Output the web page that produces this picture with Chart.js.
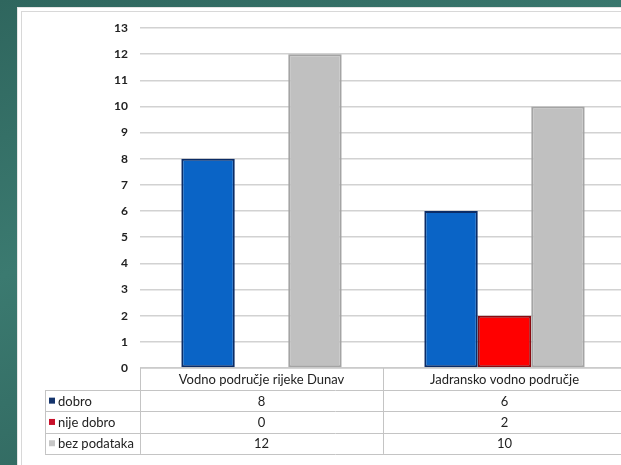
<!DOCTYPE html>
<html>
<head>
<meta charset="utf-8">
<script src="https://cdn.jsdelivr.net/npm/chart.js@4/dist/chart.umd.min.js"></script>
<style>
  html, body { margin: 0; padding: 0; overflow: hidden; }
  body {
    width: 621px; height: 465px; position: relative;
    background: linear-gradient(160deg, #2f665e 0%, #3b7a70 40%, #2b5d56 100%);
  }
  #panel {
    position: absolute; left: 17px; top: 7px; width: 620px; height: 470px;
    background: #fff; border: 1px solid #e4e4e4;
    box-shadow: inset 3px 3px 0 #fff, inset 4px 4px 0 #d8d8d8;
  }
  #wrap { position: absolute; left: 0; top: 0; width: 632px; height: 465px; }
</style>
</head>
<body>
<div id="panel"></div>
<div id="wrap"><canvas id="chart" width="632" height="465"></canvas></div>
<script>
var categories = ['Vodno područje rijeke Dunav', 'Jadransko vodno područje'];
var seriesNames = ['dobro', 'nije dobro', 'bez podataka'];
var dobro = [8, 6];
var nijeDobro = [0, 2];
var bezPodataka = [12, 10];
var yTicks = [0, 1, 2, 3, 4, 5, 6, 7, 8, 9, 10, 11, 12, 13];

var fillColors = ['#0a64c6', '#ff0000', '#c0c0c0'];
var edgeColors = ['#0b2c66', '#8a0a10', '#a4a4a4'];
var markColors = ['#15346c', '#c8102a', '#c6c6c6'];
var fontFamily = 'Lato, "Open Sans", sans-serif';

// data table drawn under the plot, one row per series
var dataTable = {
    id: 'dataTable',
    afterDraw: function (chart) {
        var ctx = chart.ctx;
        var x = chart.scales.x;
        var area = chart.chartArea;
        var rows = [dobro, nijeDobro, bezPodataka];
        var top = area.bottom;
        var headH = 22, rowH = 21.3;
        var labelLeft = 45;
        var step = x.getPixelForValue(1) - x.getPixelForValue(0);
        var bottom = top + headH + rowH * rows.length;

        ctx.save();
        ctx.strokeStyle = '#c4c4c4';
        ctx.lineWidth = 1;
        ctx.beginPath();
        ctx.moveTo(area.left, top); ctx.lineTo(area.right, top);
        for (var r = 0; r <= rows.length; r++) {
            var yy = Math.round(top + headH + rowH * r) + 0.5;
            ctx.moveTo(labelLeft, yy); ctx.lineTo(area.right, yy);
        }
        ctx.moveTo(labelLeft + 0.5, top + headH); ctx.lineTo(labelLeft + 0.5, bottom);
        ctx.moveTo(area.left + 0.5, top); ctx.lineTo(area.left + 0.5, bottom);
        for (var c = 0; c < categories.length; c++) {
            var edge = Math.round(x.getPixelForValue(c) + step / 2) + 0.5;
            ctx.moveTo(edge, top); ctx.lineTo(edge, bottom);
        }
        ctx.stroke();

        ctx.fillStyle = '#222';
        ctx.font = '13px ' + fontFamily;
        ctx.textAlign = 'center';
        ctx.textBaseline = 'middle';
        categories.forEach(function (name, i) {
            ctx.fillText(name, x.getPixelForValue(i), top + headH / 2 + 1);
        });
        rows.forEach(function (vals, r) {
            var cy = top + headH + rowH * r + rowH / 2 + 1;
            vals.forEach(function (v, i) {
                ctx.fillStyle = '#222';
                ctx.textAlign = 'center';
                ctx.fillText(String(v), x.getPixelForValue(i), cy);
            });
            ctx.fillStyle = markColors[r];
            ctx.fillRect(labelLeft + 4, cy - 4, 6, 6);
            ctx.fillStyle = '#222';
            ctx.textAlign = 'left';
            ctx.fillText(seriesNames[r], labelLeft + 13, cy);
        });
        ctx.restore();
    }
};

var ctx = document.getElementById('chart').getContext('2d');
var chart = new Chart(ctx, {
    type: 'bar',
    data: {
        labels: categories,
        datasets: [
            { label: seriesNames[0], data: dobro },
            { label: seriesNames[1], data: nijeDobro },
            { label: seriesNames[2], data: bezPodataka }
        ].map(function (ds, i) {
            ds.backgroundColor = fillColors[i];
            ds.borderColor = edgeColors[i];
            ds.borderWidth = 2;
            ds.borderSkipped = false;
            ds.barPercentage = 1;
            ds.categoryPercentage = 0.66;
            return ds;
        })
    },
    options: {
        responsive: false,
        animation: false,
        layout: { padding: { top: 28, bottom: 97, right: 6, left: 0 } },
        plugins: { legend: { display: false }, tooltip: { enabled: false } },
        scales: {
            x: { display: false },
            y: {
                min: 0,
                max: 13,
                afterFit: function (scale) { scale.width = 140; },
                afterBuildTicks: function (scale) {
                    scale.ticks = yTicks.map(function (v) { return { value: v }; });
                },
                border: { display: false },
                grid: { color: '#d2d2d2', lineWidth: 1.5, drawTicks: false },
                ticks: {
                    padding: 12,
                    color: '#222',
                    font: { family: fontFamily, size: 12, weight: 'bold' }
                }
            }
        }
    },
    plugins: [dataTable]
});
</script>
</body>
</html>
